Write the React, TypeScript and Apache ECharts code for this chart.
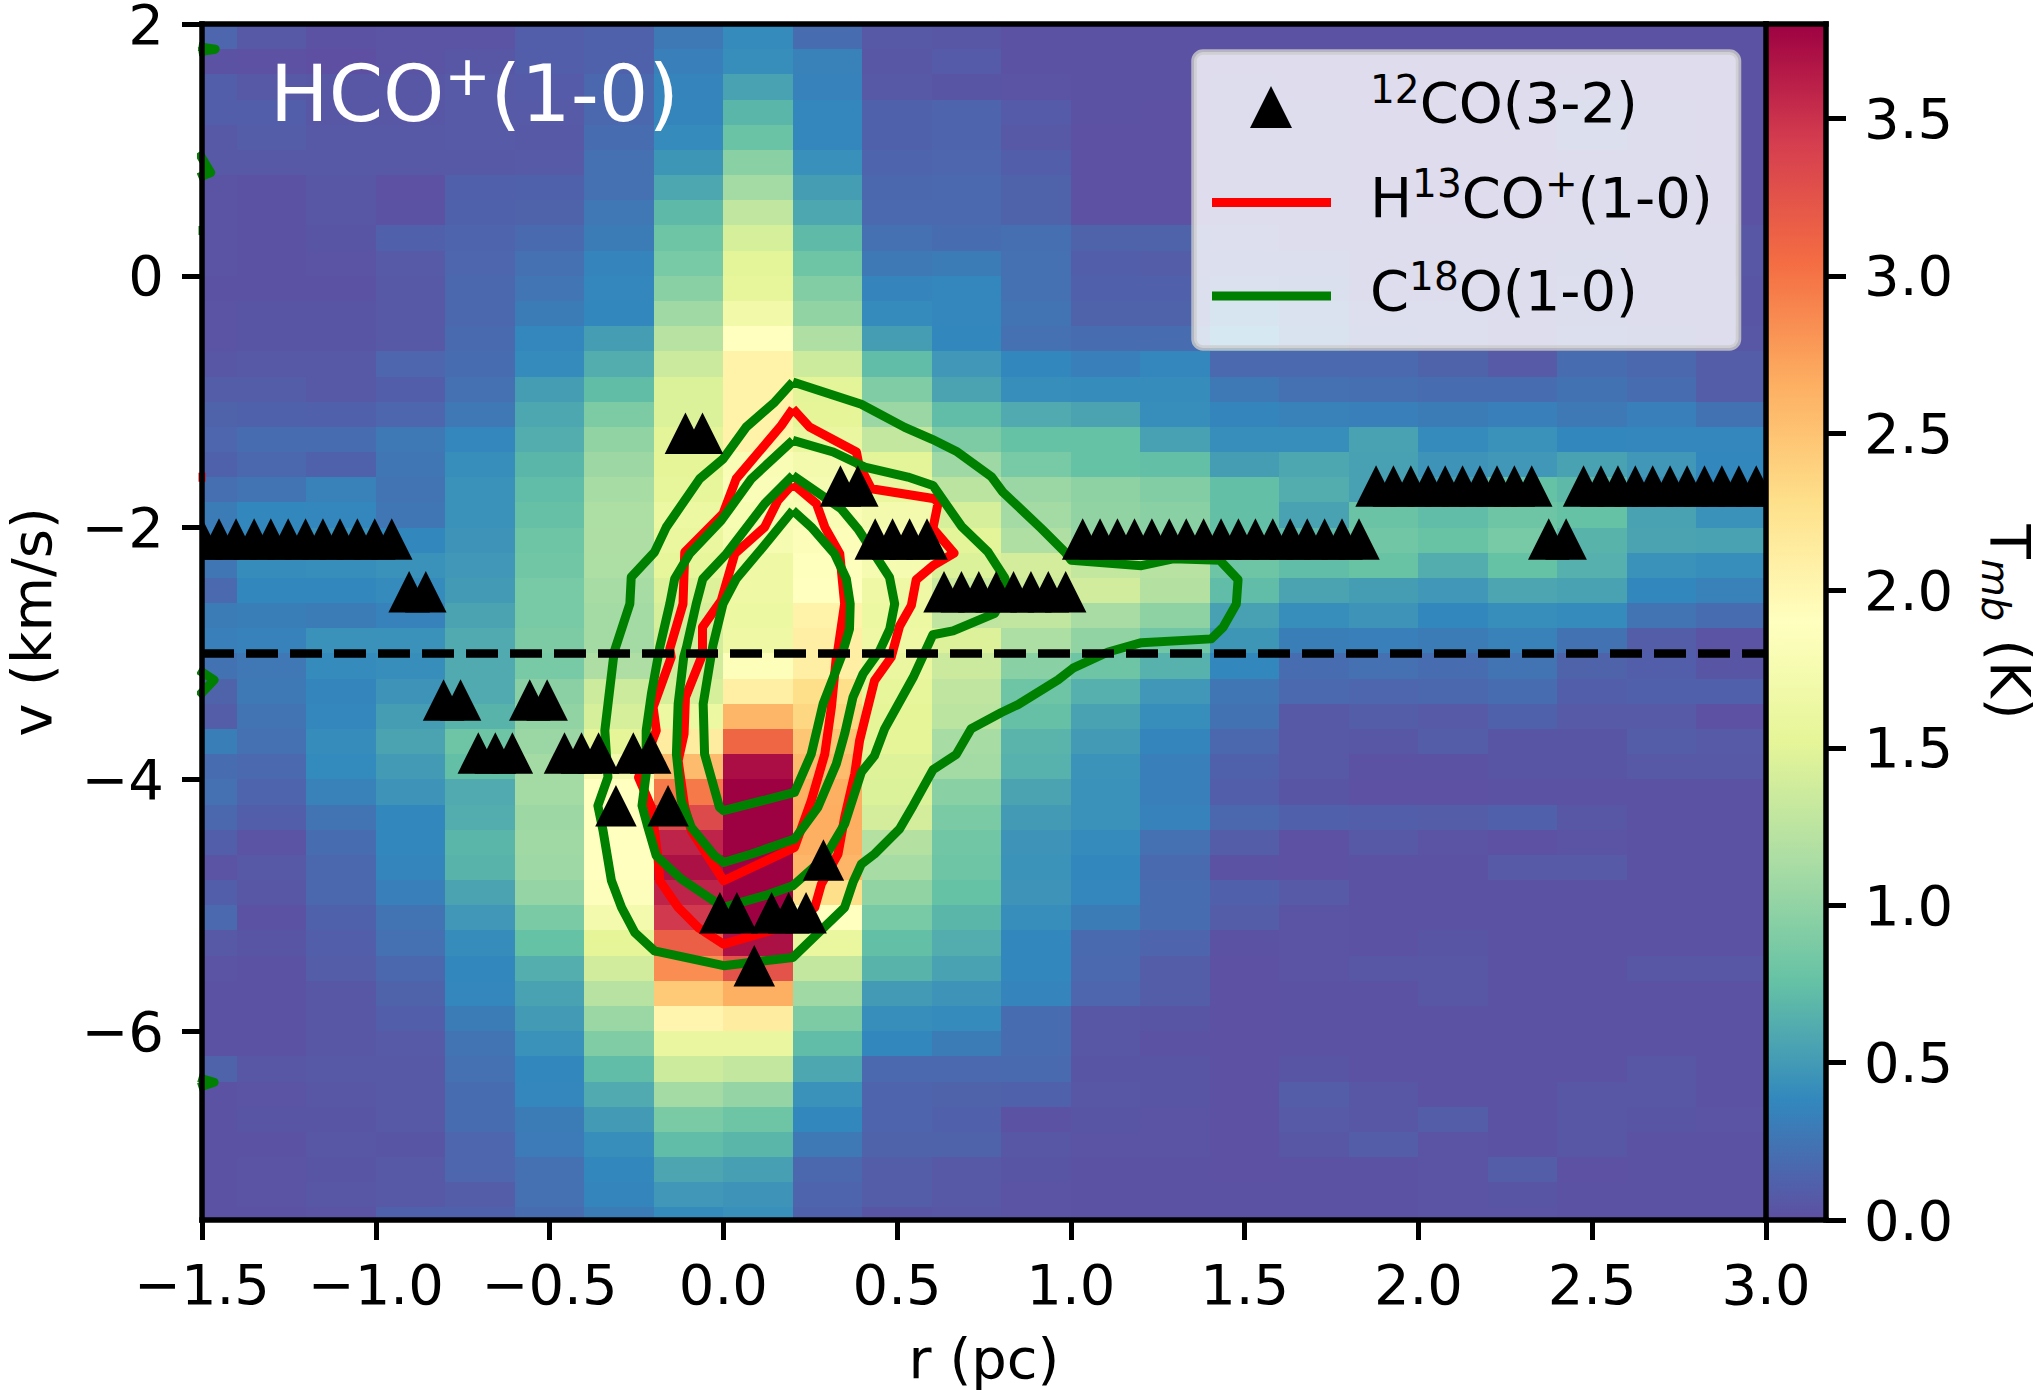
import { useEffect, useRef } from 'react';
import * as echarts from 'echarts';

const FONT = '"DejaVu Sans"';

// cell edges of the position-velocity map
const rEdges = [-1.6, -1.4, -1.2, -1.0, -0.8, -0.6, -0.4, -0.2, 0.0, 0.2, 0.4, 0.6, 0.8, 1.0, 1.2, 1.4, 1.6, 1.8, 2.0, 2.2, 2.4, 2.6, 2.8];
const vEdges = [
  2.0, 1.8, 1.6, 1.4, 1.2, 1.0, 0.8, 0.6, 0.4, 0.2, 0.0, -0.2, -0.4, -0.6, -0.8, -1.0, -1.2, -1.4, -1.6, -1.8,
  -2.0, -2.2, -2.4, -2.6, -2.8, -3.0, -3.2, -3.4, -3.6, -3.8, -4.0, -4.2, -4.4, -4.6, -4.8, -5.0, -5.2, -5.4, -5.6, -5.8,
  -6.0, -6.2, -6.4, -6.6, -6.8, -7.0, -7.2, -7.4,
];

// Tmb per column, top row first
const col00 = [.15, .02, .10, .10, .06, .06, .03, .03, .03, .03, .02, .03, .03, .05, .09, .13, .15, .12, .21, .30, .32, .26, .17, .30, .32, .23, .13, .09, .31, .20, .22, .16, .10, .03, .10, .17, .06, .03, .02, .02, .02, .13, .02, .02, .02, .02, .02, .02];
const col01 = [.06, .01, .06, .10, .09, .06, .02, .02, .02, .02, .02, .04, .04, .06, .09, .12, .19, .16, .24, .38, .38, .41, .38, .31, .34, .27, .28, .24, .22, .17, .14, .10, .03, .06, .05, .02, .04, .02, .02, .02, .02, .05, .03, .04, .02, .03, .03, .02];
const col02 = [.02, .00, .05, .05, .06, .06, .05, .05, .04, .03, .02, .04, .04, .06, .06, .11, .20, .12, .33, .37, .44, .42, .38, .30, .44, .40, .36, .37, .41, .39, .33, .24, .20, .16, .16, .12, .10, .09, .05, .05, .05, .06, .05, .04, .05, .04, .05, .03];
const col03 = [.03, .03, .05, .05, .06, .06, .01, .02, .11, .07, .06, .06, .06, .15, .10, .15, .28, .26, .24, .26, .38, .44, .40, .34, .44, .42, .46, .52, .56, .50, .46, .38, .38, .36, .32, .24, .22, .16, .13, .10, .07, .06, .06, .06, .04, .06, .06, .12];
const col04 = [.03, .05, .07, .07, .07, .06, .11, .12, .14, .15, .16, .16, .18, .20, .22, .27, .37, .42, .44, .44, .46, .48, .50, .56, .60, .60, .60, .66, .80, .74, .60, .62, .68, .66, .56, .48, .41, .38, .37, .30, .24, .22, .20, .20, .15, .15, .09, .12];
const col05 = [.10, .10, .08, .07, .06, .07, .12, .13, .18, .22, .25, .30, .37, .40, .52, .58, .62, .68, .72, .75, .80, .82, .86, .86, .88, .86, .96, 1.0, 1.05, 1.10, 1.10, 1.06, 1.08, 1.07, 1.02, .87, .76, .63, .55, .50, .44, .38, .37, .30, .29, .22, .22, .19];
const col06 = [.12, .12, .16, .16, .20, .22, .22, .27, .30, .35, .37, .38, .52, .62, .73, .88, 1.0, 1.06, 1.12, 1.15, 1.16, 1.15, 1.12, 1.10, 1.10, 1.16, 1.36, 1.42, 1.52, 1.72, 1.90, 1.90, 1.90, 1.90, 1.87, 1.72, 1.52, 1.38, 1.22, 1.05, .90, .72, .60, .50, .42, .38, .36, .30];
const col07 = [.28, .32, .35, .36, .40, .47, .58, .70, .80, .86, .95, 1.08, 1.22, 1.35, 1.45, 1.45, 1.50, 1.52, 1.55, 1.62, 1.58, 1.55, 1.46, 1.42, 1.40, 1.38, 1.42, 1.62, 2.12, 2.55, 2.97, 3.32, 3.58, 3.70, 3.58, 3.45, 3.15, 2.85, 2.45, 2.02, 1.60, 1.36, 1.10, .87, .72, .57, .48, .40];
const col08 = [.40, .42, .55, .68, .78, .95, 1.10, 1.28, 1.42, 1.50, 1.55, 1.70, 1.90, 2.05, 2.05, 2.05, 2.05, 1.80, 1.82, 1.78, 1.75, 1.65, 1.65, 1.62, 1.65, 1.85, 2.10, 2.60, 3.10, 3.72, 3.80, 3.80, 3.80, 3.80, 3.80, 3.80, 3.70, 3.25, 2.65, 2.12, 1.60, 1.30, 1.02, .80, .68, .53, .46, .43];
const col09 = [.20, .33, .34, .37, .37, .43, .52, .58, .71, .80, .92, 1.0, 1.17, 1.36, 1.50, 1.52, 1.60, 1.72, 1.75, 1.80, 1.84, 1.88, 1.90, 2.05, 2.10, 2.10, 2.28, 2.35, 2.48, 2.55, 2.65, 2.66, 2.65, 2.60, 2.28, 1.90, 1.58, 1.30, 1.08, .88, .72, .58, .44, .38, .28, .16, .14, .12];
const col10 = [.06, .05, .06, .12, .12, .14, .16, .17, .22, .28, .35, .40, .52, .72, .90, 1.05, 1.30, 1.50, 1.60, 1.72, 1.80, 1.75, 1.65, 1.62, 1.65, 1.60, 1.55, 1.52, 1.52, 1.47, 1.45, 1.40, 1.20, 1.12, 1.0, .86, .74, .66, .50, .42, .38, .17, .14, .14, .13, .09, .09, .04];
const col11 = [.05, .08, .04, .14, .14, .15, .17, .17, .20, .30, .37, .37, .38, .48, .56, .72, .88, 1.07, 1.25, 1.42, 1.50, 1.45, 1.35, 1.27, 1.46, 1.35, 1.27, 1.25, 1.12, 1.10, .95, .87, .82, .80, .76, .68, .62, .55, .46, .40, .30, .17, .13, .11, .13, .06, .06, .05];
const col12 = [.02, .02, .03, .08, .06, .10, .13, .13, .21, .22, .22, .24, .22, .38, .42, .60, .76, .86, 1.05, 1.10, 1.17, 1.40, 1.37, 1.28, 1.15, .95, .80, .75, .67, .65, .56, .50, .46, .45, .46, .42, .38, .38, .35, .20, .20, .18, .12, .02, .05, .04, .03, .03];
const col13 = [.02, .02, .02, .02, .01, .01, .01, .01, .13, .10, .11, .13, .20, .32, .41, .56, .76, .76, .98, 1.0, 1.02, 1.30, 1.38, 1.13, 1.0, .80, .64, .55, .50, .45, .44, .44, .40, .38, .37, .30, .18, .17, .15, .05, .05, .04, .05, .04, .03, .02, .02, .02];
const col14 = [.02, .02, .02, .01, .01, .01, .01, .01, .13, .09, .11, .13, .20, .37, .41, .42, .54, .74, .92, .95, .95, 1.22, 1.20, .98, .82, .65, .48, .42, .36, .32, .32, .34, .22, .18, .20, .20, .14, .09, .09, .04, .02, .04, .04, .03, .03, .02, .02, .02];
const col15 = [.02, .02, .03, .04, .04, .04, .05, .05, .09, .12, .17, .30, .40, .17, .28, .36, .42, .52, .74, .74, .76, .80, .72, .54, .47, .38, .26, .23, .16, .12, .10, .16, .09, .02, .11, .09, .02, .01, .01, .01, .01, .01, .01, .01, .01, .01, .02, .02];
const col16 = [.02, .02, .02, .03, .03, .03, .03, .03, .05, .10, .14, .20, .25, .17, .22, .33, .42, .58, .62, .55, .70, .72, .56, .42, .31, .20, .17, .06, .06, .06, .04, .11, .01, .01, .07, .03, .03, .03, .02, .02, .02, .04, .09, .07, .05, .02, .02, .02];
const col17 = [.02, .02, .02, .02, .02, .02, .02, .03, .04, .05, .06, .08, .10, .17, .21, .32, .55, .54, .54, .78, .82, .77, .52, .46, .32, .22, .15, .09, .05, .02, .01, .10, .06, .02, .02, .02, .02, .05, .02, .02, .02, .02, .05, .05, .09, .02, .02, .02];
const col18 = [.02, .02, .02, .02, .02, .02, .02, .02, .03, .05, .06, .08, .08, .13, .20, .30, .40, .46, .54, .72, .77, .62, .48, .38, .30, .20, .16, .07, .09, .02, .01, .09, .03, .02, .02, .02, .04, .05, .05, .02, .02, .02, .02, .09, .03, .03, .03, .03];
const col19 = [.02, .02, .02, .02, .02, .02, .02, .02, .03, .05, .05, .06, .06, .07, .20, .32, .44, .48, .76, .80, .86, .76, .57, .42, .33, .24, .20, .12, .04, .04, .02, .11, .01, .07, .02, .02, .02, .02, .02, .02, .02, .02, .02, .02, .02, .09, .04, .03];
const col20 = [.02, .02, .04, .12, .10, .05, .03, .03, .04, .07, .08, .07, .10, .20, .23, .28, .38, .55, .70, .76, .66, .64, .55, .40, .23, .13, .10, .07, .04, .04, .02, .05, .03, .07, .02, .02, .02, .02, .02, .02, .02, .02, .05, .05, .05, .01, .02, .02];
const col21 = [.02, .02, .02, .03, .04, .03, .03, .03, .05, .05, .05, .05, .07, .16, .20, .32, .37, .48, .44, .55, .56, .44, .38, .24, .09, .10, .11, .07, .09, .06, .02, .02, .02, .02, .02, .02, .02, .05, .02, .02, .02, .05, .05, .04, .02, .02, .02, .02];
const col22 = [.02, .02, .02, .02, .02, .02, .02, .02, .05, .05, .04, .04, .05, .09, .09, .23, .37, .38, .38, .44, .55, .42, .33, .20, .03, .04, .11, .01, .07, .06, .02, .02, .02, .02, .02, .02, .02, .05, .02, .02, .02, .02, .02, .03, .02, .02, .02, .02];
const tmbCols = [col00, col01, col02, col03, col04, col05, col06, col07, col08, col09, col10, col11, col12, col13, col14, col15, col16, col17, col18, col19, col20, col21, col22];

// Spectral_r
const SPECTRAL = ['#5e4fa2', '#3288bd', '#66c2a5', '#abdda4', '#e6f598', '#ffffbf', '#fee08b', '#fdae61', '#f46d43', '#d53e4f', '#9e0142'];
const TMAX = 3.8;

// H13CO+ contours
const redOuter = [[.2, -1.056], [.248, -1.201], [.383, -1.4], [.39, -1.5], [.426, -1.692], [.608, -1.771], [.618, -1.804], [.603, -2.007], [.664, -2.203], [.603, -2.303], [.555, -2.414], [.541, -2.618], [.507, -2.784], [.483, -3.03], [.435, -3.216], [.411, -3.48], [.392, -3.692], [.378, -3.957], [.349, -4.302], [.33, -4.593], [.282, -4.832], [.263, -5.017], [.2, -5.15], [.001, -5.309], [-.073, -5.176], [-.13, -5.017], [-.183, -4.805], [-.188, -4.62], [-.207, -4.222], [-.244, -3.984], [-.193, -3.613], [-.202, -3.427], [-.15, -3.03], [-.154, -2.963], [-.116, -2.606], [-.111, -2.195], [-.001, -1.89], [.037, -1.612], [.167, -1.188], [.2, -1.056]];
const redInner = [[.2, -1.652], [.268, -1.811], [.292, -1.996], [.335, -2.208], [.349, -2.606], [.33, -2.963], [.325, -3.03], [.311, -3.427], [.292, -3.798], [.253, -4.169], [.205, -4.54], [.001, -4.805], [-.092, -4.408], [-.111, -4.222], [-.13, -3.852], [-.113, -3.64], [-.109, -3.348], [-.063, -3.03], [-.06, -2.963], [-.06, -2.79], [-.006, -2.579], [.033, -2.208], [.119, -1.996], [.157, -1.784], [.2, -1.652]];
const redEdge = [[-1.51, -1.6], [-1.49, -1.6]];

// C18O contours
const greenOuter = [[.2, -.844], [.397, -1.021], [.522, -1.204], [.601, -1.299], [.67, -1.393], [.772, -1.598], [.804, -1.717], [.915, -2.007], [.982, -2.192], [1.001, -2.259], [1.203, -2.303], [1.294, -2.248], [1.428, -2.259], [1.481, -2.414], [1.476, -2.607], [1.438, -2.792], [1.404, -2.884], [1.203, -2.914], [1.107, -2.988], [1.006, -3.117], [.963, -3.21], [.848, -3.406], [.8, -3.469], [.713, -3.598], [.67, -3.802], [.603, -3.924], [.546, -4.209], [.507, -4.394], [.435, -4.593], [.397, -4.673], [.373, -4.819], [.349, -5.017], [.2, -5.415], [.119, -5.441], [.001, -5.48], [-.198, -5.362], [-.255, -5.216], [-.293, -5.017], [-.322, -4.805], [-.346, -4.408], [-.361, -4.209], [-.332, -3.984], [-.341, -3.613], [-.317, -3.056], [-.313, -2.977], [-.269, -2.606], [-.265, -2.394], [-.198, -2.195], [-.164, -1.996], [-.068, -1.612], [0, -1.453], [.066, -1.201], [.148, -1.003], [.2, -.844]];
const greenSecond = [[.2, -1.307], [.316, -1.4], [.407, -1.519], [.531, -1.599], [.603, -1.665], [.685, -1.989], [.761, -2.192], [.809, -2.396], [.819, -2.47], [.781, -2.681], [.661, -2.821], [.603, -2.851], [.546, -3.191], [.464, -3.599], [.435, -3.812], [.397, -3.944], [.349, -4.355], [.292, -4.62], [.2, -4.845], [.119, -4.924], [.001, -5.017], [-.121, -4.792], [-.193, -4.607], [-.217, -4.381], [-.234, -4.209], [-.222, -3.957], [-.222, -3.613], [-.207, -3.321], [-.188, -3.03], [-.183, -2.95], [-.154, -2.606], [-.14, -2.407], [-.097, -2.208], [-.006, -1.943], [.081, -1.612], [.2, -1.307]];
const greenThird = [[.2, -1.586], [.339, -1.851], [.387, -2.01], [.478, -2.394], [.493, -2.606], [.479, -2.805], [.45, -2.977], [.402, -3.162], [.373, -3.348], [.349, -3.639], [.325, -3.878], [.272, -4.222], [.205, -4.474], [.081, -4.593], [.001, -4.66], [-.025, -4.607], [-.092, -4.381], [-.121, -4.169], [-.135, -3.798], [-.13, -3.401], [-.114, -3.03], [-.106, -2.95], [-.078, -2.606], [-.059, -2.407], [.009, -2.208], [.119, -1.811], [.2, -1.586]];
const greenInner = [[.2, -1.864], [.253, -1.996], [.32, -2.208], [.354, -2.407], [.365, -2.606], [.363, -2.805], [.339, -3.03], [.287, -3.401], [.253, -3.798], [.205, -4.103], [.001, -4.249], [-.011, -4.222], [-.054, -3.798], [-.058, -3.401], [-.036, -3.03], [-.03, -2.937], [-.001, -2.606], [.037, -2.407], [.114, -2.155], [.2, -1.864]];
const greenEdges = [
  [[-1.51, 1.78], [-1.462, 1.8], [-1.51, 1.82]],
  [[-1.51, .98], [-1.475, .82], [-1.51, .78]],
  [[-1.51, .36], [-1.497, .36]],
  [[-1.51, -3.13], [-1.465, -3.21], [-1.51, -3.34]],
  [[-1.51, -6.37], [-1.465, -6.406], [-1.51, -6.447]],
];

const systemicLine = [[-1.5, -3], [3, -3]];

// 12CO(3-2) peaks: positions for each velocity
const co125 = [-.109, -.06];
const co167 = [.337, .387, 1.878, 1.928, 1.978, 2.028, 2.077, 2.127, 2.177, 2.226, 2.276, 2.326, 2.475, 2.525, 2.574, 2.624, 2.674, 2.724, 2.773, 2.823, 2.873, 2.922, 2.972, 3.022];
const co209 = [-1.5, -1.451, -1.402, -1.35, -1.302, -1.252, -1.202, -1.152, -1.103, -1.053, -1.003, -.954, .437, .487, .536, .586, 1.034, 1.084, 1.134, 1.183, 1.233, 1.283, 1.332, 1.382, 1.432, 1.482, 1.531, 1.581, 1.631, 1.68, 1.73, 1.78, 1.829, 2.375, 2.425];
const co251 = [-.904, -.856, .635, .685, .735, .785, .835, .885, .935, .985];
const co337 = [-.805, -.756, -.557, -.507];
const co379 = [-.705, -.656, -.607, -.457, -.408, -.359, -.259, -.209];
const co421 = [-.309, -.159];
const co464 = [.288];
const co506 = [-.01, .039, .139, .188, .238];
const co548 = [.089];
const coRows: [number, number[]][] = [[-1.25, co125], [-1.67, co167], [-2.09, co209], [-2.51, co251], [-3.37, co337], [-3.79, co379], [-4.21, co421], [-4.64, co464], [-5.06, co506], [-5.48, co548]];

const rTicks = [-1.5, -1, -0.5, 0, 0.5, 1, 1.5, 2, 2.5, 3];
const vTicks = [-6, -4, -2, 0, 2];
const tTicks = [0, 0.5, 1, 1.5, 2, 2.5, 3, 3.5];

const SPINE = { color: '#000', width: 5.5, cap: 'square' as const };
const TICK = { length: 20, lineStyle: { color: '#000', width: 5 } };
const minus = (s: string) => s.replace('-', '\u2212');

function cellItem(_: any, api: any) {
  const r = api.value(0);
  const v = api.value(1);
  const a = api.coord([r, v]);
  const b = api.coord([r + 0.2, v - 0.2]);
  const x = Math.round(a[0]);
  const y = Math.round(a[1]);
  return {
    type: 'rect',
    shape: { x, y, width: Math.round(b[0]) - x, height: Math.round(b[1]) - y },
    style: { fill: echarts.color.lerp(Math.min(api.value(2) / TMAX, 1), SPECTRAL) },
  };
}

function triangleItem(_: any, api: any) {
  const p = api.coord([api.value(0), api.value(1)]);
  const h = 20.75;
  return {
    type: 'polygon',
    shape: { points: [[p[0] - h, p[1] + h], [p[0], p[1] - h], [p[0] + h, p[1] + h]] },
    style: { fill: '#000' },
  };
}

function colorbarItem(_: any, api: any) {
  const a = api.coord([0, TMAX]);
  const b = api.coord([1, 0]);
  const stops = SPECTRAL.map((c, i) => ({ offset: 1 - i / 10, color: c })).reverse();
  return {
    type: 'rect',
    shape: { x: a[0], y: a[1], width: b[0] - a[0], height: b[1] - a[1] },
    style: { fill: new echarts.graphic.LinearGradient(0, 0, 0, 1, stops) },
  };
}

function contour(data: number[][], color: string) {
  return {
    type: 'line',
    data,
    symbol: 'none',
    silent: true,
    clip: true,
    z: 3,
    lineStyle: { color, width: 9, join: 'round' },
  };
}

const legendRich = {
  b: { fontFamily: FONT, fontSize: 56, lineHeight: 66, verticalAlign: 'middle', fill: '#000' },
  s: { fontFamily: FONT, fontSize: 39, lineHeight: 38, verticalAlign: 'top', fill: '#000' },
};
const titleRich = {
  b: { fontFamily: FONT, fontSize: 78, lineHeight: 92, fill: '#fff' },
  s: { fontFamily: FONT, fontSize: 55, lineHeight: 53, verticalAlign: 'top', fill: '#fff' },
};

function legendText(text: string, y: number) {
  return {
    type: 'text',
    z: 102,
    x: 1370,
    y,
    style: { text, rich: legendRich, verticalAlign: 'middle', align: 'left', font: `56px ${FONT}`, fill: '#000' },
  };
}

export default function App() {
  const ref = useRef<HTMLDivElement>(null);

  useEffect(() => {
    if (!ref.current) return;
    const chart = echarts.init(ref.current, undefined, { renderer: 'svg' });

    const cells = tmbCols.flatMap((col, i) => col.map((t, j) => [rEdges[i], vEdges[j], t]));
    const triangles = coRows.flatMap(([v, rs]) => rs.map((r) => [r, v]));

    const labelStyle = { color: '#000', fontFamily: FONT, fontSize: 56 };
    const bare = { axisTick: { show: false }, axisLabel: { show: false }, splitLine: { show: false } };

    chart.setOption({
      animation: false,
      backgroundColor: '#fff',
      grid: [
        { left: 202, top: 24, width: 1564, height: 1196, outerBoundsMode: 'none' },
        { left: 1766, top: 24, width: 60, height: 1196, outerBoundsMode: 'none' },
      ],
      xAxis: [
        {
          type: 'value',
          gridIndex: 0,
          min: -1.5,
          max: 3,
          z: 10,
          position: 'bottom',
          name: 'r (pc)',
          nameLocation: 'middle',
          nameGap: 110,
          nameTextStyle: labelStyle,
          axisLine: { onZero: false, lineStyle: SPINE },
          axisTick: { ...TICK, customValues: rTicks },
          axisLabel: { ...labelStyle, margin: 36, customValues: rTicks, formatter: (v: number) => minus(v.toFixed(1)) },
          splitLine: { show: false },
        },
        { type: 'value', gridIndex: 0, min: -1.5, max: 3, z: 10, position: 'top', axisLine: { onZero: false, lineStyle: SPINE }, ...bare },
        { type: 'value', gridIndex: 1, min: 0, max: 1, z: 10, position: 'bottom', axisLine: { onZero: false, lineStyle: SPINE }, ...bare },
        { type: 'value', gridIndex: 1, min: 0, max: 1, z: 10, position: 'top', axisLine: { onZero: false, lineStyle: SPINE }, ...bare },
      ],
      yAxis: [
        {
          type: 'value',
          gridIndex: 0,
          min: -7.5,
          max: 2,
          z: 10,
          position: 'left',
          name: 'v (km/s)',
          nameLocation: 'middle',
          nameGap: 143,
          nameRotate: 90,
          nameTextStyle: labelStyle,
          axisLine: { onZero: false, lineStyle: SPINE },
          axisTick: { ...TICK, customValues: vTicks },
          axisLabel: { ...labelStyle, margin: 38, customValues: vTicks, formatter: (v: number) => minus(String(v)) },
          splitLine: { show: false },
        },
        { type: 'value', gridIndex: 0, min: -7.5, max: 2, z: 10, position: 'right', axisLine: { onZero: false, lineStyle: SPINE }, ...bare },
        {
          type: 'value',
          gridIndex: 1,
          min: 0,
          max: TMAX,
          z: 10,
          position: 'right',
          name: '{t|T}{m|mb} (K)',
          nameLocation: 'middle',
          nameGap: 150,
          nameRotate: -90,
          nameTextStyle: {
            ...labelStyle,
            rich: {
              t: { fontFamily: FONT, fontSize: 56, lineHeight: 68, fill: '#000' },
              m: { fontFamily: FONT, fontSize: 39, fontStyle: 'italic', lineHeight: 30, verticalAlign: 'bottom', fill: '#000' },
            },
          },
          axisLine: { onZero: false, lineStyle: SPINE },
          axisTick: { ...TICK, customValues: tTicks },
          axisLabel: { ...labelStyle, margin: 38, customValues: tTicks, formatter: (v: number) => v.toFixed(1) },
          splitLine: { show: false },
        },
      ],
      series: [
        { type: 'custom', name: 'HCO+(1-0)', data: cells, encode: { x: 0, y: 1 }, clip: true, silent: true, renderItem: cellItem },
        contour(redEdge, '#ff0000'),
        contour(redOuter, '#ff0000'),
        contour(redInner, '#ff0000'),
        ...greenEdges.map((d) => contour(d, '#008000')),
        contour(greenOuter, '#008000'),
        contour(greenSecond, '#008000'),
        contour(greenThird, '#008000'),
        contour(greenInner, '#008000'),
        {
          type: 'line',
          data: systemicLine,
          symbol: 'none',
          silent: true,
          z: 4,
          lineStyle: { color: '#000', width: 8.5, type: [32, 12] },
        },
        { type: 'custom', name: '12CO(3-2)', data: triangles, encode: { x: 0, y: 1 }, clip: true, silent: true, z: 5, renderItem: triangleItem },
        { type: 'custom', xAxisIndex: 2, yAxisIndex: 2, data: [[0, 0]], encode: { x: 0, y: 1 }, silent: true, renderItem: colorbarItem },
      ],
      graphic: [
        {
          type: 'text',
          z: 100,
          x: 270,
          y: 94,
          style: { text: '{b|HCO}{s|+}{b|(1-0)}', rich: titleRich, verticalAlign: 'middle', align: 'left', font: `78px ${FONT}`, fill: '#fff' },
        },
        {
          type: 'rect',
          z: 100,
          shape: { x: 1194, y: 52, width: 544.5, height: 296, r: 9 },
          style: { fill: 'rgba(255,255,255,0.8)', stroke: 'rgba(204,204,204,0.8)', lineWidth: 5.5 },
        },
        {
          type: 'polygon',
          z: 101,
          shape: { points: [[1250, 128], [1271, 86], [1292, 128]] },
          style: { fill: '#000' },
        },
        { type: 'line', z: 101, shape: { x1: 1212, y1: 202.5, x2: 1331, y2: 202.5 }, style: { stroke: '#ff0000', lineWidth: 9 } },
        { type: 'line', z: 101, shape: { x1: 1212, y1: 296, x2: 1331, y2: 296 }, style: { stroke: '#008000', lineWidth: 9 } },
        legendText('{s|12}{b|CO(3-2)}', 102.5),
        legendText('{b|H}{s|13}{b|CO}{s|+}{b|(1-0)}', 197),
        legendText('{b|C}{s|18}{b|O(1-0)}', 290),
      ],
    });

    return () => chart.dispose();
  }, []);

  return <div ref={ref} style={{ position: 'fixed', left: 0, top: 0, width: 2036, height: 1390 }} />;
}
